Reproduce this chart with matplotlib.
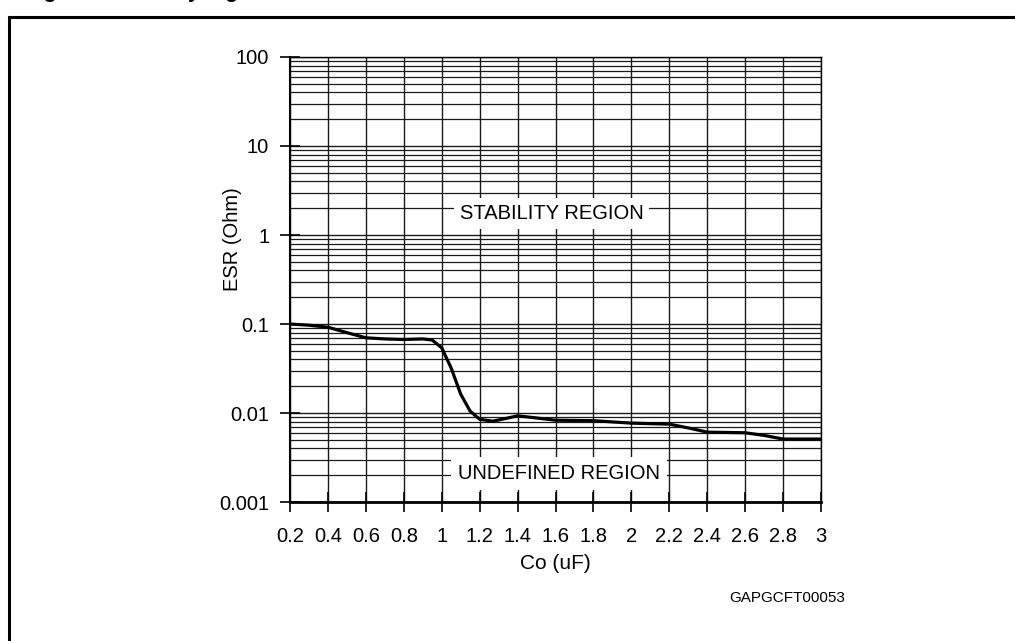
import numpy as np
import matplotlib.pyplot as plt
from matplotlib.patches import Rectangle
from matplotlib.ticker import FixedLocator, LogLocator, NullFormatter

plt.rcParams['font.family'] = ['Liberation Sans', 'DejaVu Sans']

# ESR stability curve
co = [0.2, 0.3, 0.4, 0.5, 0.6, 0.7, 0.8, 0.9, 0.95, 1.0, 1.05, 1.1, 1.15, 1.2,
      1.27, 1.35, 1.4, 1.5, 1.6, 1.8, 2.0, 2.2, 2.3, 2.4, 2.6, 2.7, 2.8, 3.0]
esr = [0.100, 0.097, 0.092, 0.080, 0.070, 0.068, 0.067, 0.068, 0.066, 0.054,
       0.032, 0.0163, 0.0105, 0.0085, 0.0081, 0.0088, 0.0093, 0.0088, 0.0083,
       0.0082, 0.0077, 0.0075, 0.0068, 0.0061, 0.0060, 0.0056, 0.0051, 0.0051]

x_ticks = [0.2, 0.4, 0.6, 0.8, 1.0, 1.2, 1.4, 1.6, 1.8, 2.0, 2.2, 2.4, 2.6, 2.8, 3.0]
x_labels = ['0.2', '0.4', '0.6', '0.8', '1', '1.2', '1.4', '1.6', '1.8', '2',
            '2.2', '2.4', '2.6', '2.8', '3']
y_ticks = [0.001, 0.01, 0.1, 1, 10, 100]
y_labels = ['0.001', '0.01', '0.1', '1', '10', '100']

fig = plt.figure(figsize=(10.15, 6.41), dpi=100)
ax = fig.add_axes([0.2857, 0.2168, 0.5232, 0.6943])

ax.set_yscale('log')
ax.set_xlim(0.2, 3.0)
ax.set_ylim(0.001, 100)

ax.xaxis.set_major_locator(FixedLocator(x_ticks))
ax.set_xticklabels(x_labels, fontsize=14.5)
ax.yaxis.set_major_locator(FixedLocator(y_ticks))
ax.set_yticklabels(y_labels, fontsize=14.5)
ax.yaxis.set_minor_locator(LogLocator(base=10, subs=np.arange(2, 10)))
ax.yaxis.set_minor_formatter(NullFormatter())

ax.grid(True, which='major', axis='both', color='#1a1a1a', lw=1.0)
ax.grid(True, which='minor', axis='y', color='#1a1a1a', lw=0.9)
ax.tick_params(axis='both', which='major', direction='inout', length=14,
               width=1.2, pad=8)
ax.tick_params(axis='y', which='minor', length=0)
ax.tick_params(axis='x', pad=11)

for side in ['top', 'right']:
    ax.spines[side].set_linewidth(1.0)
ax.spines['left'].set_linewidth(1.5)
ax.spines['bottom'].set_linewidth(2.0)

ax.plot(co, esr, color='black', lw=2.3, zorder=5)

ax.text(1.58, 1.75, 'STABILITY REGION', fontsize=14.5, ha='center', va='center',
        zorder=6, bbox=dict(facecolor='white', edgecolor='none', pad=4))
ax.text(1.62, 0.0021, 'UNDEFINED REGION', fontsize=14.5, ha='center', va='center',
        zorder=6, bbox=dict(facecolor='white', edgecolor='none', pad=5))

ax.set_xlabel('Co (uF)', fontsize=15, labelpad=6)
ax.set_ylabel('ESR (Ohm)', fontsize=14.5)
ax.yaxis.set_label_coords(-0.09, 0.59)

fig.text(787 / 1015, 1 - 598 / 641, 'GAPGCFT00053', fontsize=11,
         ha='center', va='center')

# partly visible caption above the frame
fig.text(25 / 1015, 1 + 1.5 / 641, 'Figure 5. Stability region', fontsize=15,
         fontweight='bold', ha='left', va='baseline')

fig.add_artist(Rectangle((9 / 1015, -0.1), 1.2, 0.1 + (641 - 17) / 641,
                         transform=fig.transFigure, fill=False,
                         lw=2.2, edgecolor='black'))

fig.savefig('out.png', dpi=100)
